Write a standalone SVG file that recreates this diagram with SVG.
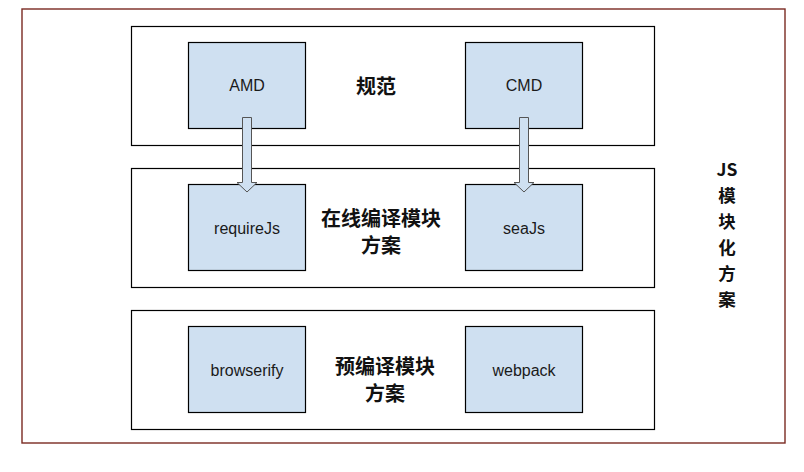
<svg xmlns="http://www.w3.org/2000/svg" width="804" height="472" viewBox="0 0 804 472">
<defs>
<style>
.frame{fill:#fff;stroke:#7a2a22;stroke-width:1.4}
.grp{fill:#fff;stroke:#000;stroke-width:1.2}
.box{fill:#cfe0f1;stroke:#000;stroke-width:1.2}
.lbl{font-family:"Liberation Sans",Arial,sans-serif;font-size:16px;fill:#1a1a1a;text-anchor:middle}
.cjk{font-family:"Noto Sans CJK SC","Liberation Sans",sans-serif;font-size:20px;font-weight:bold;fill:#111;text-anchor:middle}
.side{font-size:17.5px}
.arrow{fill:#cfe0f1;stroke:#555;stroke-width:1}
</style>
</defs>
<rect width="804" height="472" fill="#fff"/>
<rect class="frame" x="22" y="9" width="763" height="434"/>
<g id="g-spec">
<rect class="grp" x="131.5" y="26.5" width="523" height="119"/>
<text class="cjk" x="376" y="94">规范</text>
</g>
<g id="g-online">
<rect class="grp" x="131.5" y="168.5" width="523" height="119"/>
<text class="cjk" x="381" y="226">在线编译模块</text>
<text class="cjk" x="381" y="253">方案</text>
</g>
<g id="g-pre">
<rect class="grp" x="131.5" y="310.5" width="523" height="119"/>
<text class="cjk" x="385" y="374">预编译模块</text>
<text class="cjk" x="385" y="401">方案</text>
</g>
<g id="n-amd"><rect class="box" x="188.5" y="42.5" width="117" height="86"/><text class="lbl" x="247" y="91">AMD</text></g>
<g id="n-cmd"><rect class="box" x="465.5" y="42.5" width="117" height="86"/><text class="lbl" x="524" y="91">CMD</text></g>
<g id="n-require"><rect class="box" x="188.5" y="184.5" width="117" height="86"/><text class="lbl" x="247" y="234">requireJs</text></g>
<g id="n-sea"><rect class="box" x="465.5" y="184.5" width="117" height="86"/><text class="lbl" x="524" y="234">seaJs</text></g>
<g id="n-browserify"><rect class="box" x="188.5" y="326.5" width="117" height="86"/><text class="lbl" x="247" y="376">browserify</text></g>
<g id="n-webpack"><rect class="box" x="465.5" y="326.5" width="117" height="86"/><text class="lbl" x="524" y="376">webpack</text></g>
<g id="connectors">
<path class="arrow" d="M242.5 117.5 H251.5 V182.5 H257 L247 192 L237 182.5 H242.5 Z"/>
<path class="arrow" d="M519.5 117.5 H528.5 V182.5 H534 L524 192 L514 182.5 H519.5 Z"/>
</g>
<g id="title">
<text class="cjk side" x="727" y="176">JS</text>
<text class="cjk side" x="727" y="202">模</text>
<text class="cjk side" x="727" y="228">块</text>
<text class="cjk side" x="727" y="254">化</text>
<text class="cjk side" x="727" y="280">方</text>
<text class="cjk side" x="727" y="306">案</text>
</g>
</svg>
